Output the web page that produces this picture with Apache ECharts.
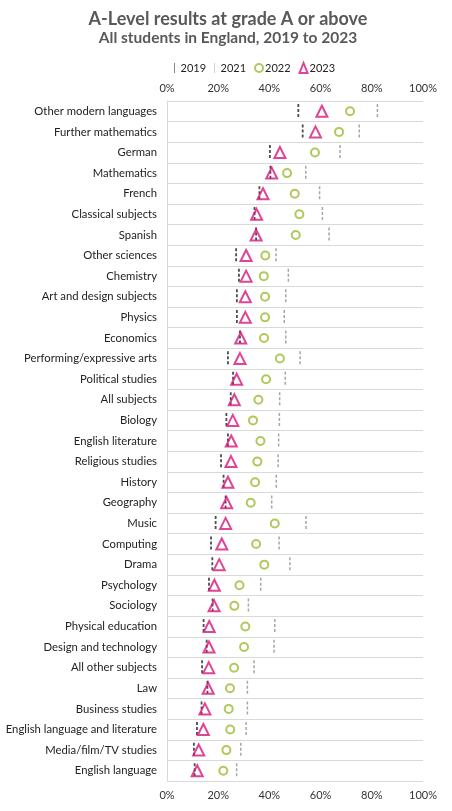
<!DOCTYPE html>
<html><head><meta charset="utf-8">
<script src="https://cdn.jsdelivr.net/npm/echarts@6/dist/echarts.min.js"></script>
<style>html,body{margin:0;padding:0;background:#fff}#c{width:452px;height:811px}</style>
</head><body><div id="c"></div>
<script>
const categories = ["Other modern languages","Further mathematics","German","Mathematics","French","Classical subjects","Spanish","Other sciences","Chemistry","Art and design subjects","Physics","Economics","Performing/expressive arts","Political studies","All subjects","Biology","English literature","Religious studies","History","Geography","Music","Computing","Drama","Psychology","Sociology","Physical education","Design and technology","All other subjects","Law","Business studies","English language and literature","Media/film/TV studies","English language"];
const v2019 = [51.3,53.0,40.2,40.4,36.1,34.2,34.8,27.0,28.1,27.3,27.3,28.5,23.8,25.8,24.9,23.2,23.8,21.1,22.1,22.9,19.0,17.2,17.7,16.4,17.8,14.3,15.5,13.7,15.8,13.5,11.7,10.5,10.8];
const v2021 = [82.2,75.1,67.6,54.2,59.6,60.7,63.3,42.6,47.4,46.4,45.8,46.4,52.0,46.2,44.0,43.9,43.6,43.4,42.7,40.9,54.3,43.8,48.0,36.6,31.8,42.1,41.8,34.0,31.4,31.4,30.9,28.8,27.2];
const v2022 = [71.5,67.2,57.8,46.9,49.9,51.7,50.3,38.4,37.8,38.3,38.3,37.9,44.1,38.7,35.7,33.6,36.5,35.3,34.4,32.7,42.1,34.8,38.0,28.3,26.3,30.6,30.1,26.2,24.6,24.1,24.7,23.2,22.0];
const v2023 = [60.5,58.0,44.1,40.9,37.5,35.0,34.8,30.9,30.9,30.6,30.6,28.8,28.5,27.2,26.3,25.7,25.1,25.0,23.8,23.3,22.9,21.4,20.4,18.5,18.4,16.5,16.4,16.3,16.1,14.8,14.2,12.4,11.8];
const xTicks = [0,20,40,60,80,100];

const font = 'Lato, "Open Sans", sans-serif';
function dashSeries(name, data, color, width){
  return {
    name, type:'custom', xAxisIndex:0, yAxisIndex:0, z:2,
    data: data.map((v,i)=>[v,i]),
    renderItem:function(params, api){
      const p = api.coord([api.value(0), api.value(1)]);
      const h = api.size([0,1])[1];
      const half = h*0.36;
      return {type:'line', shape:{x1:p[0],y1:p[1]-half,x2:p[0],y2:p[1]+half},
        style:{stroke:color,lineWidth:width,lineDash:[3,2]}};
    },
    itemStyle:{color:color}
  };
}
const chart = echarts.init(document.getElementById('c'));
chart.setOption({
  animation:false,
  title:[{text:'A-Level results at grade A or above',left:223,top:5,textAlign:'center',
    textStyle:{fontFamily:font,fontSize:18,fontWeight:'bold',color:'#595959'}},
    {text:'All students in England, 2019 to 2023',left:223,top:25,textAlign:'center',
    textStyle:{fontFamily:font,fontSize:15.5,fontWeight:'bold',color:'#595959'}}],
  legend:{top:57,left:169,itemWidth:8,itemHeight:10,itemGap:8,
    textStyle:{fontFamily:font,fontSize:11,color:'#222',padding:[0,0,0,-3]},
    data:[
      {name:'2019',icon:'path://M0,0h1v10h-1z',itemStyle:{color:'#888'}},
      {name:'2021',icon:'path://M0,0h1v10h-1z',itemStyle:{color:'#d0d0d0'}},
      {name:'2022',icon:'circle',itemStyle:{color:'#fff',borderColor:'#9cbb34',borderWidth:2}},
      {name:'2023',icon:'triangle',itemStyle:{color:'#fff',borderColor:'#d6177b',borderWidth:2}}
    ]},
  grid:{left:167,right:29,top:101,bottom:30,containLabel:false},
  xAxis:[{type:'value',position:'top',min:0,max:100,interval:20,
      axisLine:{show:false},axisTick:{show:false},splitLine:{show:false},
      axisLabel:{formatter:'{value}%',fontFamily:font,fontSize:11,color:'#333',margin:7}},
    {type:'value',position:'bottom',min:0,max:100,interval:20,
      axisLine:{show:false},axisTick:{show:false},splitLine:{show:false},
      axisLabel:{formatter:'{value}%',fontFamily:font,fontSize:11,color:'#333',margin:9}}],
  yAxis:{type:'category',data:categories,inverse:true,
    axisLine:{show:true,lineStyle:{color:'#d9d9d9',width:1}},
    axisTick:{show:false},
    splitLine:{show:true,lineStyle:{color:'#d9d9d9',width:1}},
    axisLabel:{fontFamily:font,fontSize:11.3,color:'#222',margin:10}},
  series:[
    dashSeries('2019',v2019,'#4d4d4d',1.8),
    dashSeries('2021',v2021,'#a6a6a6',1.5),
    {name:'2022',type:'scatter',z:3,data:v2022.map((v,i)=>[v,i]),symbol:'circle',symbolSize:8,
      itemStyle:{color:'#fff',borderColor:'#9cbb34',borderWidth:2}},
    {name:'2023',type:'scatter',z:4,data:v2023.map((v,i)=>[v,i]),symbol:'triangle',symbolSize:11,
      itemStyle:{color:'rgba(255,255,255,0)',borderColor:'#d6177b',borderWidth:2}}
  ]
});
</script></body></html>
